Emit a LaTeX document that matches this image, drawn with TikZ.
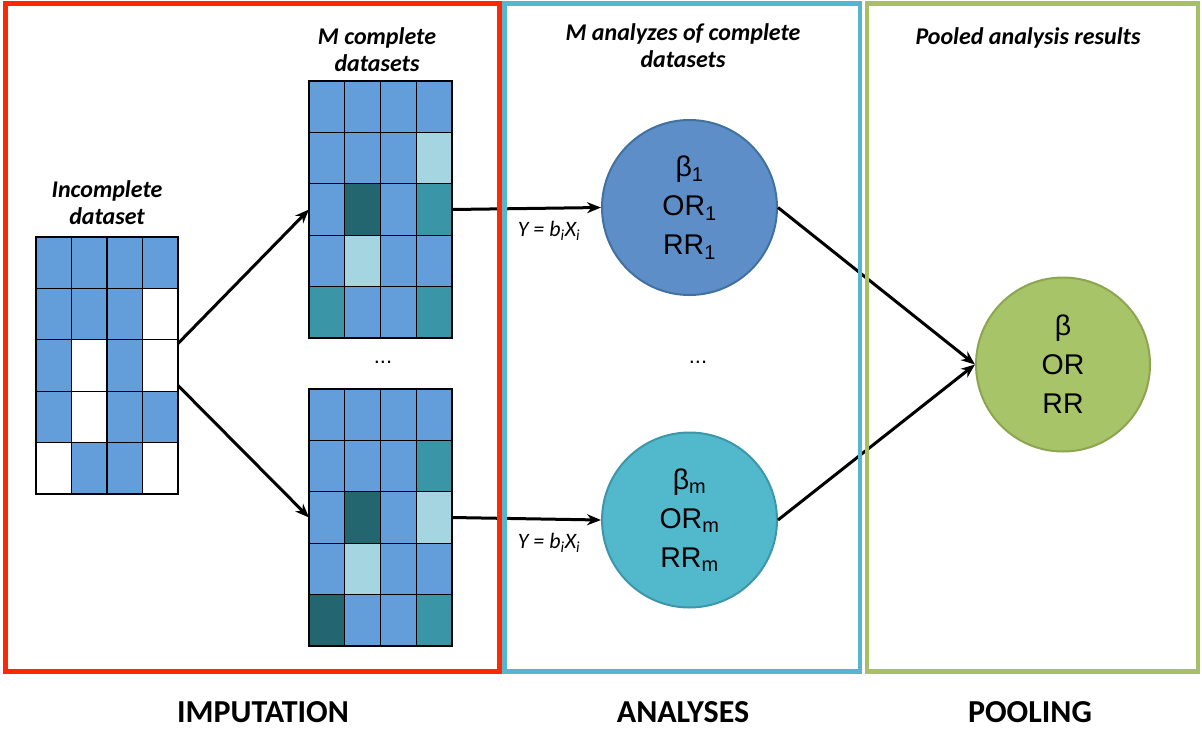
\documentclass[tikz,border=0pt]{standalone}
\usepackage{fontspec}
\newfontfamily\calibri{Carlito}
\newfontfamily\arialf{Liberation Sans}
\usetikzlibrary{arrows.meta,positioning}
\definecolor{impred}{RGB}{255,40,0}
\definecolor{anablue}{RGB}{84,182,208}
\definecolor{poolgreen}{RGB}{166,192,98}
\definecolor{colB}{RGB}{99,158,219}
\definecolor{colW}{RGB}{255,255,255}
\definecolor{colL}{RGB}{165,213,224}
\definecolor{colD}{RGB}{36,102,112}
\definecolor{colT}{RGB}{58,150,166}
\definecolor{fillone}{RGB}{93,142,200}
\definecolor{lineone}{RGB}{65,113,160}
\definecolor{fillm}{RGB}{82,184,204}
\definecolor{linem}{RGB}{61,150,170}
\definecolor{fillpool}{RGB}{168,196,104}
\definecolor{linepool}{RGB}{140,165,80}
\tikzset{
  cell/.style={draw=black, line width=1.3pt},
  gridbox/.style={minimum width=142pt, minimum height=257pt, inner sep=0pt, outer sep=0pt},
  res/.style={circle, minimum size=175pt, inner sep=0pt, line width=2pt, align=center,
    font=\arialf\fontsize{28.5}{39}\selectfont},
  arr/.style={-{Stealth[length=14pt,width=11pt]}, line width=3pt},
  head/.style={align=center, font=\calibri\bfseries\itshape\fontsize{24}{27}\selectfont},
  stage/.style={anchor=base, inner sep=0pt, font=\calibri\bfseries\fontsize{32}{36}\selectfont},
  eq/.style={font=\calibri\itshape\fontsize{22}{24}\selectfont},
  dots/.style={font=\arialf\fontsize{22}{24}\selectfont}
}
\begin{document}
\begin{tikzpicture}[x=1pt, y=-1pt]
\useasboundingbox (0,0) rectangle (1202,729);
% incomplete dataset
\begin{scope}[shift={(36,237)}]
\foreach \row [count=\r from 0] in {{B,B,B,B},{B,B,B,W},{B,W,B,W},{B,W,B,B},{W,B,B,W}}
  \foreach \c [count=\k from 0] in \row
    \draw[cell, fill=col\c] (\k*35.5,\r*51.4) rectangle ++(35.5,51.4);
\end{scope}
\node[gridbox] (gin) at (107,365.5) {};
% completed datasets
\begin{scope}[shift={(309,81)}]
\foreach \row [count=\r from 0] in {{B,B,B,B},{B,B,B,L},{B,D,B,T},{B,L,B,B},{T,B,B,T}}
  \foreach \c [count=\k from 0] in \row
    \draw[cell, fill=col\c] (\k*35.75,\r*51.4) rectangle ++(35.75,51.4);
\end{scope}
\node[gridbox, minimum width=143pt] (gtop) at (380.5,209.5) {};
\begin{scope}[shift={(309,389)}]
\foreach \row [count=\r from 0] in {{B,B,B,B},{B,B,B,T},{B,D,B,L},{B,L,B,B},{D,B,B,T}}
  \foreach \c [count=\k from 0] in \row
    \draw[cell, fill=col\c] (\k*35.75,\r*51.4) rectangle ++(35.75,51.4);
\end{scope}
\node[gridbox, minimum width=143pt] (gbot) at (380.5,517.5) {};
% analyses and pooled result
\node[res, fill=fillone, draw=lineone] (r1) at (689.5,207.5) {β\textsubscript{1}\\OR\textsubscript{1}\\RR\textsubscript{1}};
\node[res, fill=fillm, draw=linem] (rm) at (689.5,520) {β\textsubscript{m}\\OR\textsubscript{m}\\RR\textsubscript{m}};
\node[res, minimum size=174pt, fill=fillpool, draw=linepool] (pool) at (1063,364.5) {β\\OR\\RR};
% connectors
\draw[arr] ([yshift=22pt]gin.east) -- (gtop.west);
\draw[arr] ([yshift=-20pt]gin.east) -- (gbot.west);
\draw[arr] (gtop.east) -- (r1.west);
\draw[arr] (gbot.east) -- (rm.west);
\draw[arr] (r1.east) -- (pool.west);
\draw[arr] (rm.east) -- (pool.west);
% labels
\node[eq] (eq1) at (549,231) {Y = b\textsubscript{i}X\textsubscript{i}};
\node[eq] (eqm) at (549,543) {Y = b\textsubscript{i}X\textsubscript{i}};
\node[dots] (dgrid) at (383,362) {...};
\node[dots] (dres) at (698,362) {...};
\node[head] (hin) at (107,203) {Incomplete\\dataset};
\node[head] (hcomp) at (377,50) {M complete\\datasets};
\node[head] (hana) at (683,46) {M analyzes of complete\\datasets};
\node[head] (hpool) at (1028,38) {Pooled analysis results};
% stage frames
\draw[impred, line width=5pt] (5.5,3.5) rectangle (499.5,671.5);
\draw[anablue, line width=4.5pt] (504.5,3.5) rectangle (860,671.5);
\draw[poolgreen, line width=4.5pt] (867,3.5) rectangle (1198,671.5);
\node[stage] (simp) at (263,722) {IMPUTATION};
\node[stage] (sana) at (683,722) {ANALYSES};
\node[stage] (spool) at (1030,722) {POOLING};
\end{tikzpicture}
\end{document}
